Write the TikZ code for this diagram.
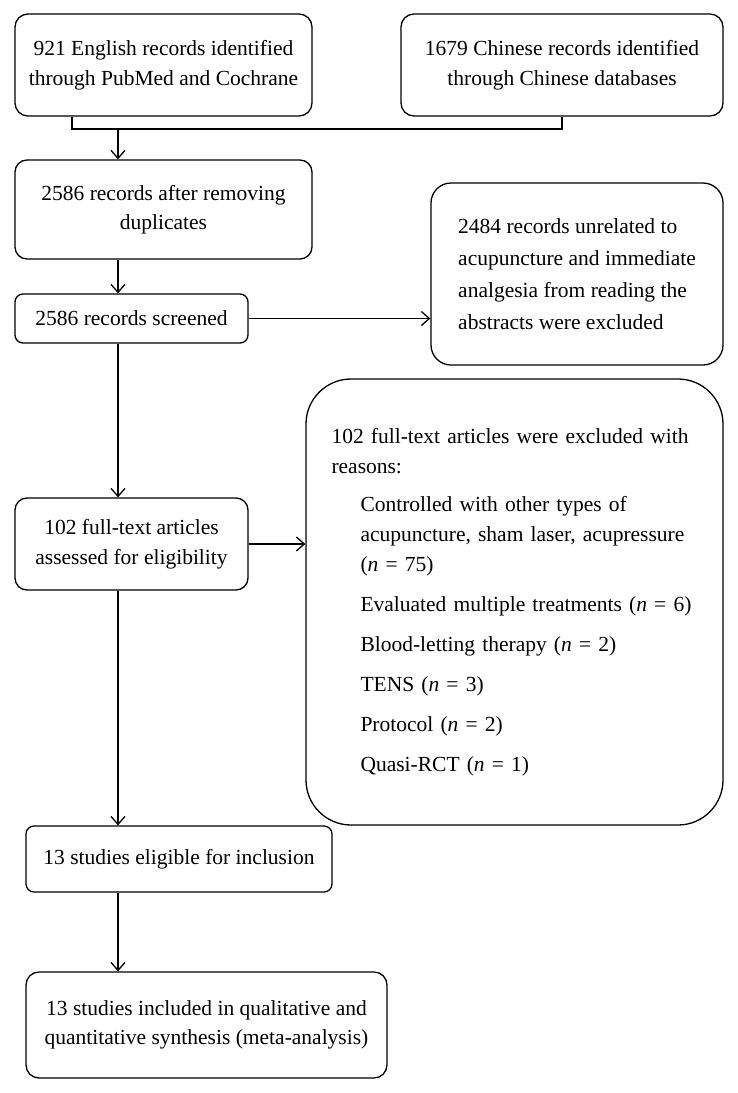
\documentclass[tikz,border=0pt]{standalone}
\usepackage{fontspec}
\setmainfont{Liberation Serif}
\usetikzlibrary{arrows.meta}
\newcommand{\reasonindent}{\hspace*{29pt}}
\tikzset{
  box/.style={draw, line width=1.3pt, align=center, inner sep=0pt, font=\fontsize{21.5}{29.5}\selectfont},
  line/.style={line width=1.3pt},
  flow/.style={line width=1.3pt, -{Straight Barb[length=8pt,width=14pt]}},
}
\begin{document}
\begin{tikzpicture}[x=1pt,y=-1pt]
  \useasboundingbox (0,0) rectangle (738,1093);
  % Sources
  \node[box, rounded corners=13pt, minimum width=297pt, minimum height=102pt] (english) at (163.5,65) {921 English records identified\\through PubMed and Cochrane};
  \node[box, rounded corners=13pt, minimum width=322pt, minimum height=102pt] (chinese) at (562,65) {1679 Chinese records identified\\through Chinese databases};
  % Main column
  \node[box, rounded corners=12pt, minimum width=297pt, minimum height=99pt] (dedup) at (163.5,209.5) {2586 records after removing\\duplicates};
  \node[box, rounded corners=8pt, minimum width=233pt, minimum height=49pt] (screened) at (131.5,318.5) {2586 records screened};
  \node[box, rounded corners=12pt, minimum width=233pt, minimum height=92pt] (fulltext) at (131.5,544) {102 full-text articles\\assessed for eligibility};
  \node[box, rounded corners=8pt, minimum width=306pt, minimum height=66pt] (eligible) at (179,859) {13 studies eligible for inclusion};
  \node[box, rounded corners=13pt, minimum width=361pt, minimum height=106pt] (included) at (206.5,1025) {13 studies included in qualitative and\\quantitative synthesis (meta-analysis)};
  % Exclusions
  \node[box, align=left, rounded corners=20pt, minimum width=292pt, minimum height=182pt, font=\fontsize{21.5}{32}\selectfont] (unrelated) at (577,274) {2484 records unrelated to\\acupuncture and immediate\\analgesia from reading the\\abstracts were excluded};
  \node[box, align=left, text width=366pt, rounded corners=45pt, minimum width=417pt, minimum height=446pt, font=\fontsize{21.5}{30}\selectfont] (reasons) at (514.5,602) {102 full-text articles were excluded with\\
    reasons:\\[8pt]
    \reasonindent Controlled with other types of\\
    \reasonindent acupuncture, sham laser, acupressure\\
    \reasonindent (\textit{n} = 75)\\[10pt]
    \reasonindent Evaluated multiple treatments (\textit{n} = 6)\\[10pt]
    \reasonindent Blood-letting therapy (\textit{n} = 2)\\[10pt]
    \reasonindent TENS (\textit{n} = 3)\\[10pt]
    \reasonindent Protocol (\textit{n} = 2)\\[10pt]
    \reasonindent Quasi-RCT (\textit{n} = 1)};
  % Connectors
  \coordinate (merge) at (118,129);
  \draw[line] ([xshift=-91.5pt]english.south) |- (merge) -| (chinese.south);
  \draw[flow] (merge) -- (merge |- dedup.north);
  \draw[flow] (dedup.south -| merge) -- (screened.north -| merge);
  \draw[flow] (screened.south -| merge) -- (fulltext.north -| merge);
  \draw[flow] (fulltext.south -| merge) -- (eligible.north -| merge);
  \draw[flow] (eligible.south -| merge) -- (included.north -| merge);
  \draw[flow] (screened.east) -- (screened.east -| unrelated.west);
  \draw[flow] (fulltext.east) -- (fulltext.east -| reasons.west);
\end{tikzpicture}
\end{document}
